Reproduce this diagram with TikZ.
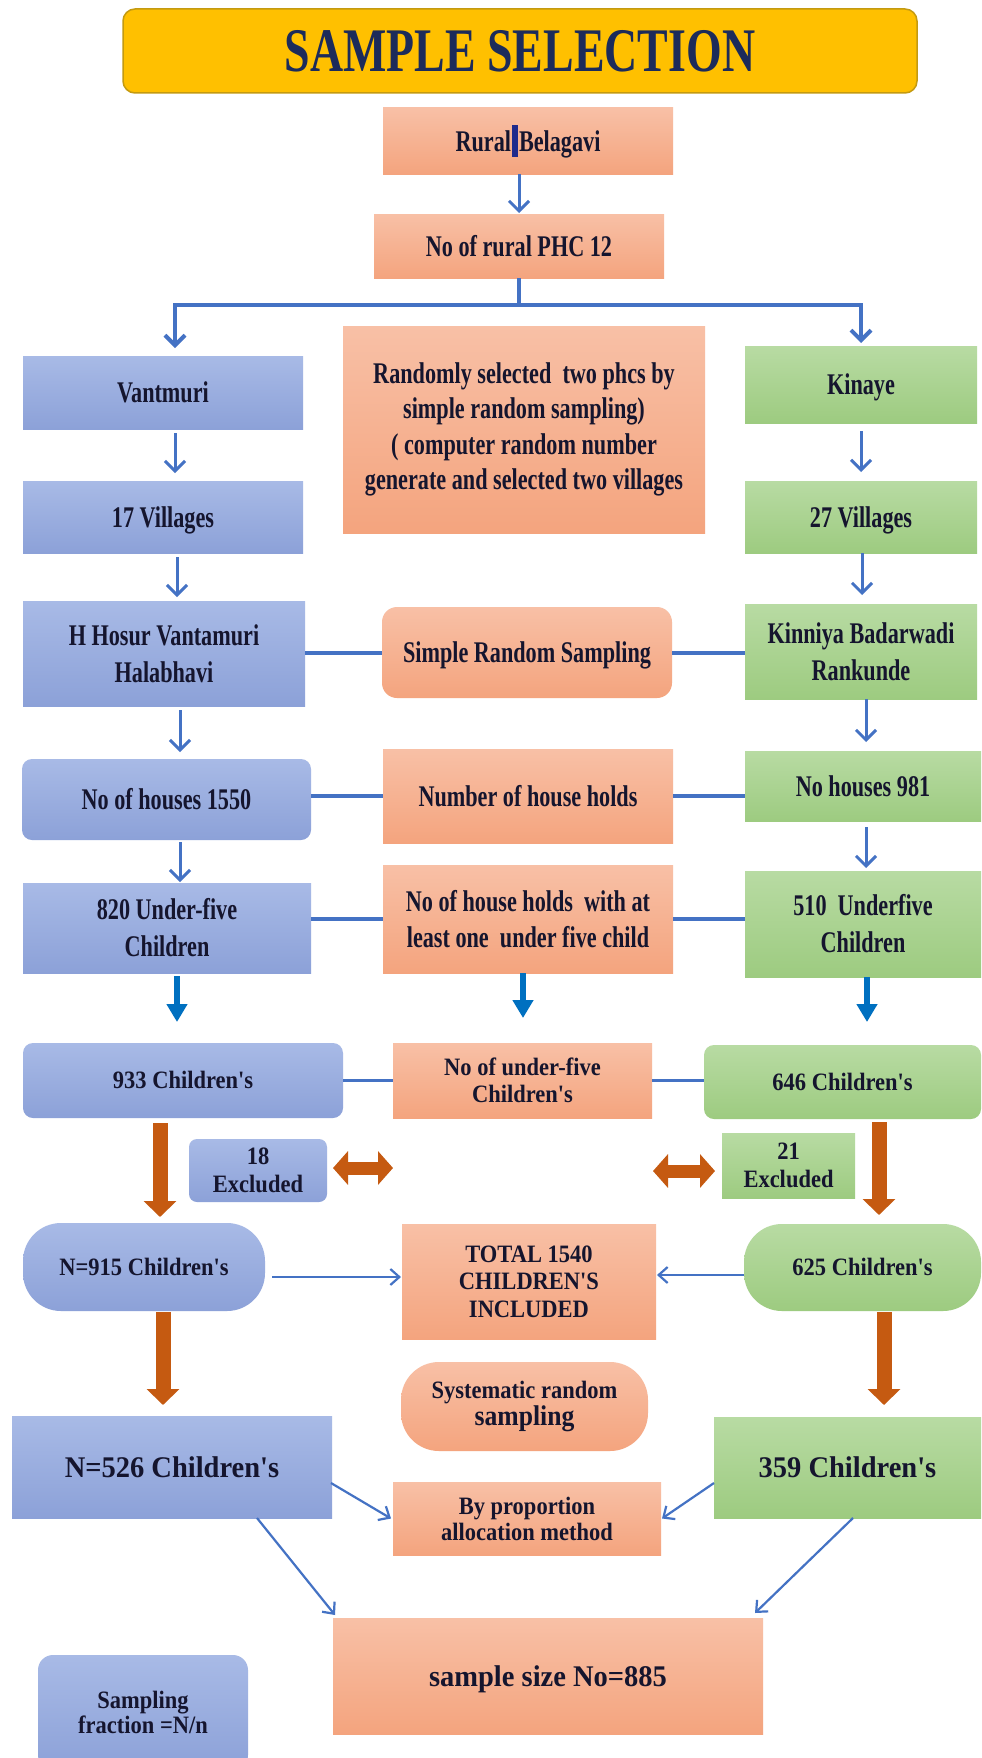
\documentclass[tikz,border=0pt]{standalone}
\usepackage{fontspec}
\setmainfont{Liberation Serif}
\newfontfamily\fcond{Liberation Serif}[FakeStretch=0.74, Ligatures=TeXOff]
\newfontfamily\fmid{Liberation Serif}[FakeStretch=0.9, Ligatures=TeXOff]
\newfontfamily\fwide{Liberation Serif}[FakeStretch=0.95, Ligatures=TeXOff]
\usetikzlibrary{arrows.meta}
\definecolor{salT}{HTML}{F8C0A6}
\definecolor{salB}{HTML}{F4A47E}
\definecolor{bluT}{HTML}{A8BAE6}
\definecolor{bluB}{HTML}{8CA1D8}
\definecolor{grnT}{HTML}{B8DBA3}
\definecolor{grnB}{HTML}{9DCB80}
\definecolor{gold}{HTML}{FFC000}
\definecolor{golddk}{HTML}{C49A10}
\definecolor{txt}{HTML}{15152E}
\definecolor{titc}{HTML}{1C2B5A}
\definecolor{lblue}{HTML}{4472C4}
\definecolor{dblue}{HTML}{0070C0}
\definecolor{brn}{HTML}{C55A11}
\definecolor{barc}{HTML}{1F2A8C}
\tikzset{
  box/.style={inner sep=0pt, outer sep=0pt, align=center, text=txt},
  wh/.style 2 args={minimum width=#1pt, minimum height=#2pt},
  sal/.style={box, top color=salT, bottom color=salB},
  blu/.style={box, top color=bluT, bottom color=bluB},
  grn/.style={box, top color=grnT, bottom color=grnB},
  ftop/.style={font=\fcond\bfseries\fontsize{30}{37}\selectfont},
  fbot/.style={font=\fmid\bfseries\fontsize{25}{27.5}\selectfont},
  fbig/.style={font=\fwide\bfseries\fontsize{30}{34}\selectfont},
  onet/.style={text height=20pt, text depth=0pt},
  oneb/.style={text height=16.5pt, text depth=0pt},
  titlebox/.style={box, fill=gold, draw=golddk, line width=1.5pt, rounded corners=12pt,
    text=titc, font=\fcond\bfseries\fontsize{62}{70}\selectfont, text height=41pt, text depth=0pt},
  conn/.style={draw=lblue, line width=4pt},
  tconn/.style={draw=lblue, line width=2.5pt},
  arr/.style={draw=lblue, line width=3pt, -{Straight Barb[length=10pt,width=20pt]}},
  tarr/.style={draw=lblue, line width=2.2pt, -{Straight Barb[length=9pt,width=16pt]}},
  barr/.style={draw=dblue, line width=6pt, -{Triangle[length=18pt,width=20pt]}},
  brarr/.style={draw=brn, line width=15pt, -{Triangle[length=16pt,width=32pt]}},
  dbl/.style={draw=brn, line width=13pt, {Triangle[length=15pt,width=33pt]}-{Triangle[length=15pt,width=33pt]}}
}
\begin{document}
\begin{tikzpicture}[x=1pt,y=-1pt]
\path[use as bounding box] (0,0) rectangle (982,1758);
\clip (0,0) rectangle (982,1758);
\fill[white] (0,0) rectangle (982,1758);

% ---------- nodes ----------
\node[titlebox, wh={794}{84}] (title) at (520,51) {SAMPLE SELECTION};

\node[sal, ftop, onet, wh={290}{66}] (rural) at (528,141)
  {Rural\kern1pt\textcolor{barc}{\rule[-6pt]{6pt}{32pt}}\kern1pt Belagavi};
\node[sal, ftop, onet, wh={290}{64}] (phc) at (519,246) {No of rural PHC 12};

\node[blu, ftop, onet, wh={280}{73}] (vant) at (163,392.5) {Vantmuri};
\node[sal, ftop, font=\fcond\bfseries\fontsize{30}{35.5}\selectfont, wh={362}{207}] (rand) at (524,429.5)
  {Randomly selected\ \ two phcs by\\simple random sampling)\\( computer random number\\generate and selected two villages};
\node[grn, ftop, onet, wh={232}{77}] (kin) at (861,384.5) {Kinaye};

\node[blu, ftop, onet, wh={280}{72}] (v17) at (163,517) {17 Villages};
\node[grn, ftop, onet, wh={232}{72}] (v27) at (861,517) {27 Villages};

\node[blu, ftop, wh={282}{105}] (hh) at (164,653.5) {H Hosur Vantamuri\\Halabhavi};
\node[sal, ftop, onet, rounded corners=15pt, wh={290}{91}] (srs) at (527,652.5) {Simple Random Sampling};
\node[grn, ftop, wh={232}{95}] (kbr) at (861,651.5) {Kinniya Badarwadi\\Rankunde};

\node[blu, ftop, onet, rounded corners=10pt, wh={289}{81}] (noh) at (166.5,799.5) {No of houses 1550};
\node[sal, ftop, onet, wh={290}{94}] (nhh) at (528,796) {Number of house holds};
\node[grn, ftop, onet, wh={236}{70}] (nh981) at (863,786) {No houses 981};

\node[blu, ftop, wh={288}{90}] (u820) at (167,928) {820 Under-five\\Children};
\node[sal, ftop, font=\fcond\bfseries\fontsize{30}{36}\selectfont, wh={290}{108}] (hhu5) at (528,919)
  {No of house holds\ \ with at\\least one\ \ under five child};
\node[grn, ftop, wh={236}{106}] (u510) at (863,924) {510\ \ Underfive\\Children};

\node[blu, fbot, oneb, rounded corners=10pt, wh={320}{75}] (c933) at (183,1080.5) {933 Children's};
\node[sal, fbot, wh={259}{75}] (nu5) at (522.5,1080.5) {No of under-five\\Children's};
\node[grn, fbot, oneb, rounded corners=10pt, wh={277}{74}] (c646) at (842.5,1082) {646 Children's};

\node[blu, fbot, rounded corners=8pt, wh={138}{63}] (ex18) at (258,1170.5) {18\\Excluded};
\node[grn, fbot, wh={133}{65}] (ex21) at (788.5,1165.5) {21\\Excluded};

\node[blu, fbot, oneb, rounded corners=38pt, wh={242}{88}] (n915) at (144,1267) {N=915 Children's};
\node[sal, fbot, wh={254}{115}] (total) at (529,1281.5) {TOTAL 1540\\CHILDREN'S\\INCLUDED};
\node[grn, fbot, oneb, rounded corners=38pt, wh={237}{87}] (c625) at (862.5,1267.5) {625 Children's};

\node[sal, fbot, rounded corners=38pt, wh={247}{89}] (sys) at (524.5,1406.5)
  {Systematic random\\{\fontsize{28.5}{30}\selectfont sampling}};

\node[blu, fbig, onet, wh={320}{102}] (n526) at (172,1467) {N=526 Children's};
\node[grn, fbig, onet, wh={267}{101}] (c359) at (847.5,1467.5) {359 Children's};
\node[sal, fbot, font=\fmid\bfseries\fontsize{25}{26}\selectfont, wh={268}{73}] (prop) at (527,1518.5) {By proportion\\allocation method};
\node[sal, fbig, onet, wh={430}{116}] (size) at (548,1676) {sample size No=885};
\node[blu, fbot, font=\fmid\bfseries\fontsize{25}{25.5}\selectfont, rounded corners=15pt, wh={210}{115}] (frac) at (143,1712.5) {Sampling\\fraction =N/n};

% ---------- connectors ----------
\coordinate (jn) at (519,305);
\draw[conn] (phc.south) -- (jn);
\draw[arr, line width=4pt] (jn) -| ([xshift=12pt,yshift=8pt]vant.north);
\draw[arr, line width=4pt] (jn) -| ([yshift=3pt]kin.north);

\draw[arr] (phc.north |- rural.south) -- ([yshift=1pt]phc.north);
\draw[arr] ([xshift=12pt,yshift=-4pt]vant.south) -- ([xshift=12pt,yshift=8pt]v17.north);
\draw[arr] ([xshift=14pt,yshift=-4pt]v17.south) -- ([xshift=13pt,yshift=4pt]hh.north);
\draw[arr] ([xshift=16pt,yshift=-4pt]hh.south) -- ([xshift=13.5pt,yshift=7pt]noh.north);
\draw[arr] ([xshift=13.5pt,yshift=-2pt]noh.south) -- ([xshift=13pt,yshift=1pt]u820.north);
\draw[arr] ([yshift=-8pt]kin.south) -- ([yshift=9pt]v27.north);
\draw[arr] ([xshift=1pt]v27.south) -- ([xshift=1pt,yshift=9pt]kbr.north);
\draw[arr] ([xshift=5pt]kbr.south) -- ([xshift=3pt,yshift=9pt]nh981.north);
\draw[arr] ([xshift=3pt,yshift=-6pt]nh981.south) -- ([xshift=3pt,yshift=3pt]u510.north);

\draw[conn] (hh.east |- srs.west) -- (srs.west);
\draw[conn] (srs.east) -- (srs.east -| kbr.west);
\draw[conn] (noh.east |- nhh.west) -- (nhh.west);
\draw[conn] (nhh.east) -- (nhh.east -| nh981.west);
\draw[conn] (u820.east |- hhu5.west) -- (hhu5.west);
\draw[conn] (hhu5.east) -- (hhu5.east -| u510.west);
\draw[tconn] (c933.east |- nu5.west) -- (nu5.west);
\draw[tconn] (nu5.east) -- (nu5.east -| c646.west);

\draw[barr] ([xshift=10pt,yshift=-3pt]u820.south) -- ([xshift=-6pt,yshift=21pt]c933.north);
\draw[barr] ([xshift=-5pt]hhu5.south) -- ([xshift=0.5pt,yshift=25pt]nu5.north);
\draw[barr] ([xshift=4pt]u510.south) -- ([xshift=24.5pt,yshift=23pt]c646.north);

\draw[brarr] ([xshift=-23pt,yshift=-5pt]c933.south) -- ([xshift=16pt,yshift=6pt]n915.north);
\draw[brarr] ([xshift=36.5pt,yshift=-3pt]c646.south) -- ([xshift=16.5pt,yshift=9pt]c625.north);
\draw[brarr] ([xshift=19pt,yshift=-1pt]n915.south) -- ([xshift=-9pt,yshift=11pt]n526.north);
\draw[brarr] ([xshift=21.5pt,yshift=-1pt]c625.south) -- ([xshift=36.5pt,yshift=12pt]c359.north);

\coordinate (dl) at (393,1168);
\draw[dbl] ([xshift=6pt,yshift=2.5pt]ex18.east) -- (dl);
\coordinate (dr) at (653,1171);
\draw[dbl] (dr) -- ([xshift=-7pt,yshift=-5.5pt]ex21.west);

\draw[tarr] ([xshift=7pt,yshift=-10pt]n915.east) -- ([xshift=-1pt,yshift=4.5pt]total.west);
\draw[tarr] ([yshift=-7.5pt]c625.west) -- ([xshift=1pt,yshift=6.5pt]total.east);

\draw[tarr] ([xshift=-1pt,yshift=-16pt]n526.east) -- ([xshift=-2pt]prop.west);
\draw[tarr] ([yshift=-15.5pt]c359.west) -- ([xshift=1pt]prop.east);
\draw[tarr] ([xshift=85pt]n526.south) -- ([xshift=2pt,yshift=3pt]size.north west);
\draw[tarr] ([xshift=5.5pt]c359.south) -- ([xshift=-8pt,yshift=5pt]size.north east);
\end{tikzpicture}
\end{document}
